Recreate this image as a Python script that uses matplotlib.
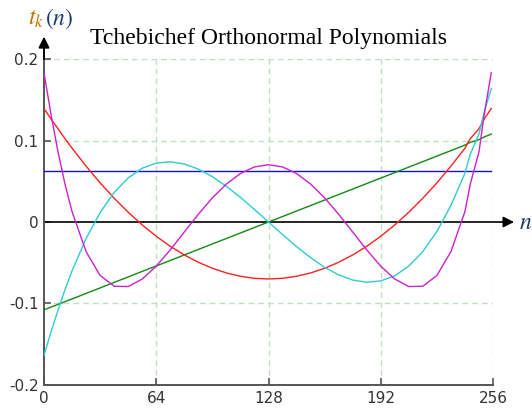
import matplotlib
matplotlib.use('Agg')
import matplotlib.pyplot as plt

plt.rcParams['mathtext.fontset'] = 'stix'

# sample positions along n (0..255)
n = [0, 4, 8, 12, 16, 24, 32, 40, 48, 56, 64, 72, 80, 88, 96, 104, 112, 120, 128,
     136, 144, 152, 160, 168, 176, 184, 192, 200, 208, 216, 224, 232, 240, 243,
     248, 251, 255]

# values
t0 = [0.0625] * len(n)
t1 = [-0.1078, -0.1044, -0.1011, -0.0977, -0.0944, -0.0876, -0.0809, -0.0741,
      -0.0674, -0.0606, -0.0539, -0.0472, -0.0404, -0.0337, -0.0269, -0.0202,
      -0.0135, -0.0067, 0.0, 0.0067, 0.0135, 0.0202, 0.0269, 0.0337, 0.0404,
      0.0472, 0.0539, 0.0606, 0.0674, 0.0741, 0.0809, 0.0876, 0.0944, 0.0977,
      0.1011, 0.1044, 0.1078]
t2 = [0.1392, 0.1265, 0.1144, 0.1021, 0.0906, 0.0685, 0.0480, 0.0292, 0.0120,
      -0.0036, -0.0175, -0.0298, -0.0404, -0.0494, -0.0568, -0.0625, -0.0666,
      -0.0691, -0.0699, -0.0691, -0.0666, -0.0625, -0.0568, -0.0494, -0.0404,
      -0.0298, -0.0175, -0.0036, 0.0120, 0.0292, 0.0480, 0.0685, 0.0906, 0.1021,
      0.1144, 0.1265, 0.1392]
t3 = [-0.1635, -0.1350, -0.1081, -0.0829, -0.0599, -0.0202, 0.0116, 0.0362,
      0.0541, 0.0660, 0.0723, 0.0739, 0.0712, 0.0649, 0.0556, 0.0438, 0.0302,
      0.0154, 0.0, -0.0154, -0.0302, -0.0438, -0.0556, -0.0649, -0.0712, -0.0739,
      -0.0723, -0.0660, -0.0541, -0.0362, -0.0116, 0.0202, 0.0599, 0.0829,
      0.1081, 0.1350, 0.1635]
t4 = [0.1830, 0.1320, 0.0860, 0.0462, 0.0128, -0.0364, -0.0656, -0.0788, -0.0792,
      -0.0700, -0.0542, -0.0342, -0.0123, 0.0095, 0.0296, 0.0466, 0.0595, 0.0676,
      0.0703, 0.0676, 0.0595, 0.0466, 0.0296, 0.0095, -0.0123, -0.0342, -0.0542,
      -0.0700, -0.0792, -0.0788, -0.0656, -0.0364, 0.0128, 0.0462, 0.0860,
      0.1320, 0.1830]

series = [t0, t1, t2, t3, t4]
colors = ['#1010ee', '#108a10', '#ff2020', '#30cccc', '#cc20cc']

xticks = [0, 64, 128, 192, 256]
yticks = [-0.2, -0.1, 0, 0.1, 0.2]
ytick_labels = ['-0.2', '-0.1', '0', '0.1', '0.2']

fig = plt.figure(figsize=(5.32, 4.09), dpi=100)
ax = fig.add_axes([0.0827, 0.0587, 0.844, 0.797])

for xv in xticks[1:]:
    ax.plot([xv, xv], [-0.2, 0.2], color='#bfe0bf', lw=1, ls=(0, (4, 3)), zorder=1)
for yv in [-0.1, 0.1, 0.2]:
    ax.plot([0, 256], [yv, yv], color='#bfe0bf', lw=1, ls=(0, (4, 3)), zorder=1)

for s, c in zip(series, colors):
    ax.plot(n, s, color=c, lw=1.0, zorder=3)

ax.set_xlim(0, 256)
ax.set_ylim(-0.2, 0.2)
ax.set_xticks(xticks)
ax.set_yticks(yticks)
ax.set_yticklabels(ytick_labels)

for side in ['top', 'right']:
    ax.spines[side].set_visible(False)
for side in ['left', 'bottom']:
    ax.spines[side].set_color('#555555')
    ax.spines[side].set_linewidth(1.4)
ax.tick_params(direction='in', length=5, width=1.2, color='#555555',
               labelsize=11, labelcolor='#333333', pad=4)

# axis arrows
ax.annotate('', xy=(268, 0), xytext=(0, 0), annotation_clip=False,
            arrowprops=dict(arrowstyle='-|>', color='black', lw=1.2,
                            mutation_scale=16, shrinkA=0, shrinkB=0), zorder=2)
ax.annotate('', xy=(0, 0.2275), xytext=(0, 0.2), annotation_clip=False,
            arrowprops=dict(arrowstyle='-|>', color='black', lw=1.4,
                            mutation_scale=16, shrinkA=0, shrinkB=0))

ax.text(271, 0, '$n$', fontsize=17, color='#1f3a6e', va='center', ha='left',
        clip_on=False)
fig.text(0.053, 0.955, '$t_k$', fontsize=17, color='#c07000', va='center', ha='left')
fig.text(0.085, 0.955, '$(n)$', fontsize=17, color='#1f3a6e', va='center', ha='left')

fig.text(0.505, 0.905, 'Tchebichef Orthonormal Polynomials', fontsize=17,
         family='Liberation Serif', ha='center', va='center')

fig.savefig('out.png', dpi=100)
